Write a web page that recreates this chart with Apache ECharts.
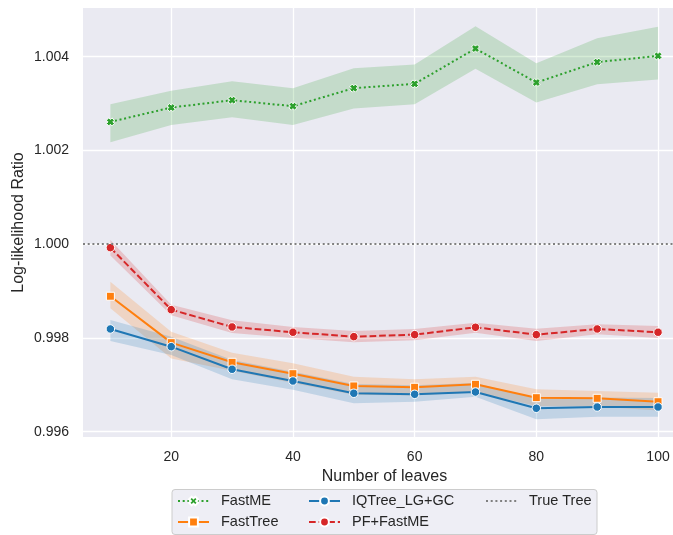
<!DOCTYPE html>
<html>
<head>
<meta charset="utf-8">
<script src="https://cdn.jsdelivr.net/npm/echarts@6/dist/echarts.min.js"></script>
<style>
  html, body { margin: 0; padding: 0; background: #ffffff; }
  #chart { width: 673px; height: 535px; }
</style>
</head>
<body>
<div id="chart"></div>
<script>
// Number of leaves in the simulated trees
const LEAVES = [10, 20, 30, 40, 50, 60, 70, 80, 90, 100];

// Mean log-likelihood ratio per method, with the 95% confidence band
const FASTME_MEAN = [1.00261, 1.002916, 1.003073, 1.002945, 1.00333, 1.003422, 1.004175, 1.00345, 1.003885, 1.004019];
const FASTME_LOW  = [1.002177, 1.002546, 1.002711, 1.002546, 1.002894, 1.002988, 1.003742, 1.003022, 1.003415, 1.003513];
const FASTME_HIGH = [1.002988, 1.003272, 1.003479, 1.00333, 1.003757, 1.003834, 1.004653, 1.003863, 1.004397, 1.004638];

const FASTTREE_MEAN = [0.99889, 0.9979, 0.997481, 0.997238, 0.996976, 0.996948, 0.997012, 0.996726, 0.996713, 0.99664];
const FASTTREE_LOW  = [0.998634, 0.99756, 0.9973, 0.99704, 0.99679, 0.99677, 0.99684, 0.99655, 0.99654, 0.99645];
const FASTTREE_HIGH = [0.999202, 0.998135, 0.997686, 0.99746, 0.997174, 0.997118, 0.997174, 0.996905, 0.996869, 0.996832];

const IQTREE_MEAN = [0.998192, 0.997814, 0.997332, 0.997082, 0.99682, 0.996798, 0.996847, 0.9965, 0.996527, 0.996527];
const IQTREE_LOW  = [0.997936, 0.997637, 0.997118, 0.996895, 0.996606, 0.99664, 0.996747, 0.996265, 0.99632, 0.99632];
const IQTREE_HIGH = [0.998384, 0.998028, 0.99753, 0.99728, 0.99702, 0.99699, 0.99704, 0.99672, 0.99673, 0.99672];

const PFFASTME_MEAN = [0.999927, 0.998604, 0.998235, 0.998122, 0.998028, 0.998071, 0.998228, 0.998071, 0.998192, 0.998122];
const PFFASTME_LOW  = [0.999757, 0.998484, 0.998107, 0.998, 0.997908, 0.997951, 0.998113, 0.997936, 0.998079, 0.998];
const PFFASTME_HIGH = [1.000092, 0.998711, 0.998378, 0.998235, 0.998149, 0.998192, 0.998327, 0.998198, 0.998292, 0.998256];

// Reference level: likelihood of the true tree
const TRUE_TREE_RATIO = 1.0;

// Axis ticks
const X_TICKS = [20, 40, 60, 80, 100];
const Y_TICKS = [0.996, 0.998, 1.000, 1.002, 1.004];

const TEXT_COLOR = '#262626';
const FONT = '"Liberation Sans", Arial, sans-serif';
// Bold "x" marker
const X_MARKER = 'path://M0,3 L3,0 L5,2 L7,0 L10,3 L8,5 L10,7 L7,10 L5,8 L3,10 L0,7 L2,5 Z';

function pairs(values) {
  return LEAVES.map((x, i) => [x, values[i]]);
}

function withAlpha(hex, a) {
  const n = parseInt(hex.slice(1), 16);
  return 'rgba(' + (n >> 16) + ',' + ((n >> 8) & 255) + ',' + (n & 255) + ',' + a + ')';
}

// Confidence band drawn as one polygon: upper edge left-to-right, lower edge back
function band(key, low, high, color) {
  return {
    type: 'custom', name: key + '-band', silent: true, clip: true,
    data: [[LEAVES[0], low[0]]],
    renderItem: (params, api) => {
      const upper = LEAVES.map((x, i) => api.coord([x, high[i]]));
      const lower = LEAVES.map((x, i) => api.coord([x, low[i]])).reverse();
      return {
        type: 'polygon',
        shape: { points: upper.concat(lower) },
        style: { fill: withAlpha(color, 0.2) }
      };
    },
    emphasis: { disabled: true }
  };
}

function meanLine(name, values, color, symbol, dash, size) {
  return {
    type: 'line', name: name, data: pairs(values),
    symbol: symbol, symbolSize: size, showSymbol: true, silent: true,
    itemStyle: { color: color, borderColor: '#ffffff', borderWidth: 1 },
    lineStyle: { color: color, width: 2, type: dash },
    emphasis: { disabled: true }
  };
}

const COLORS = { fastme: '#2ca02c', fasttree: '#ff7f0e', iqtree: '#1f77b4', pf: '#d62728' };

const series = [
  band('fastme', FASTME_LOW, FASTME_HIGH, COLORS.fastme),
  meanLine('FastME', FASTME_MEAN, COLORS.fastme, X_MARKER, [2, 2.7], 8),
  band('fasttree', FASTTREE_LOW, FASTTREE_HIGH, COLORS.fasttree),
  meanLine('FastTree', FASTTREE_MEAN, COLORS.fasttree, 'rect', 'solid', 8),
  band('iqtree', IQTREE_LOW, IQTREE_HIGH, COLORS.iqtree),
  meanLine('IQTree_LG+GC', IQTREE_MEAN, COLORS.iqtree, 'circle', 'solid', 8.5),
  band('pf', PFFASTME_LOW, PFFASTME_HIGH, COLORS.pf),
  meanLine('PF+FastME', PFFASTME_MEAN, COLORS.pf, 'circle', [6.7, 2.9], 8.5),
  {
    type: 'line', name: 'True Tree', data: [], symbol: 'none', silent: true,
    itemStyle: { color: '#808080' },
    lineStyle: { color: '#808080', width: 2, type: [2, 2.7] },
    markLine: {
      silent: true, symbol: ['none', 'none'], label: { show: false },
      lineStyle: { color: '#808080', width: 2, type: [2, 2.7] },
      emphasis: { disabled: true },
      data: [{ yAxis: TRUE_TREE_RATIO }]
    }
  }
];

// Legend entries arranged in three columns, two rows
const LEGEND_SLOTS = [
  ['FastME', 177, 501],
  ['FastTree', 177, 522],
  ['IQTree_LG+GC', 308, 501],
  ['PF+FastME', 308, 522],
  ['True Tree', 485, 501]
];

const legends = LEGEND_SLOTS.map(([name, x, y]) => ({
  data: [name === 'True Tree' ? { name: name, itemStyle: { opacity: 0 } } : name],
  left: x, top: y - 7.5, padding: 0, z: 5,
  itemWidth: 31, itemHeight: 11, selectedMode: false,
  textStyle: { color: TEXT_COLOR, fontSize: 14.5, fontFamily: FONT, padding: [0, 0, 0, 7] }
}));

const chart = echarts.init(document.getElementById('chart'), null, { renderer: 'canvas' });
chart.setOption({
  animation: false,
  backgroundColor: '#ffffff',
  grid: {
    left: 83, right: 0, top: 8, bottom: 98,
    show: true, backgroundColor: '#eaeaf2', borderWidth: 0,
    containLabel: false, outerBoundsMode: 'none'
  },
  xAxis: {
    type: 'value', min: 5.5, max: 102.46,
    axisLine: { show: false },
    axisTick: { show: false, customValues: X_TICKS },
    axisLabel: { customValues: X_TICKS, color: TEXT_COLOR, fontSize: 14, fontFamily: FONT, margin: 13 },
    splitLine: { show: true, lineStyle: { color: '#ffffff', width: 1.3 } }
  },
  yAxis: {
    type: 'value', min: 0.995887, max: 1.00504,
    axisLine: { show: false },
    axisTick: { show: false, customValues: Y_TICKS },
    axisLabel: {
      customValues: Y_TICKS, color: TEXT_COLOR, fontSize: 14, fontFamily: FONT, margin: 14,
      formatter: v => v.toFixed(3)
    },
    splitLine: { show: true, lineStyle: { color: '#ffffff', width: 1.3 } }
  },
  legend: legends,
  graphic: [
    {
      type: 'rect', left: 171.5, top: 489, z: 1,
      shape: { width: 425, height: 45, r: 3 },
      style: { fill: 'rgba(234,234,242,0.8)', stroke: '#cccccc', lineWidth: 1 }
    },
    {
      type: 'text', x: 384.5, y: 477, z: 1,
      style: { text: 'Number of leaves', align: 'center', verticalAlign: 'middle',
               fill: TEXT_COLOR, fontSize: 16, fontFamily: FONT }
    },
    {
      type: 'text', x: 18.5, y: 222.5, rotation: Math.PI / 2, z: 1,
      style: { text: 'Log-likelihood Ratio', align: 'center', verticalAlign: 'middle',
               fill: TEXT_COLOR, fontSize: 16, fontFamily: FONT }
    }
  ],
  series: series
});
</script>
</body>
</html>
